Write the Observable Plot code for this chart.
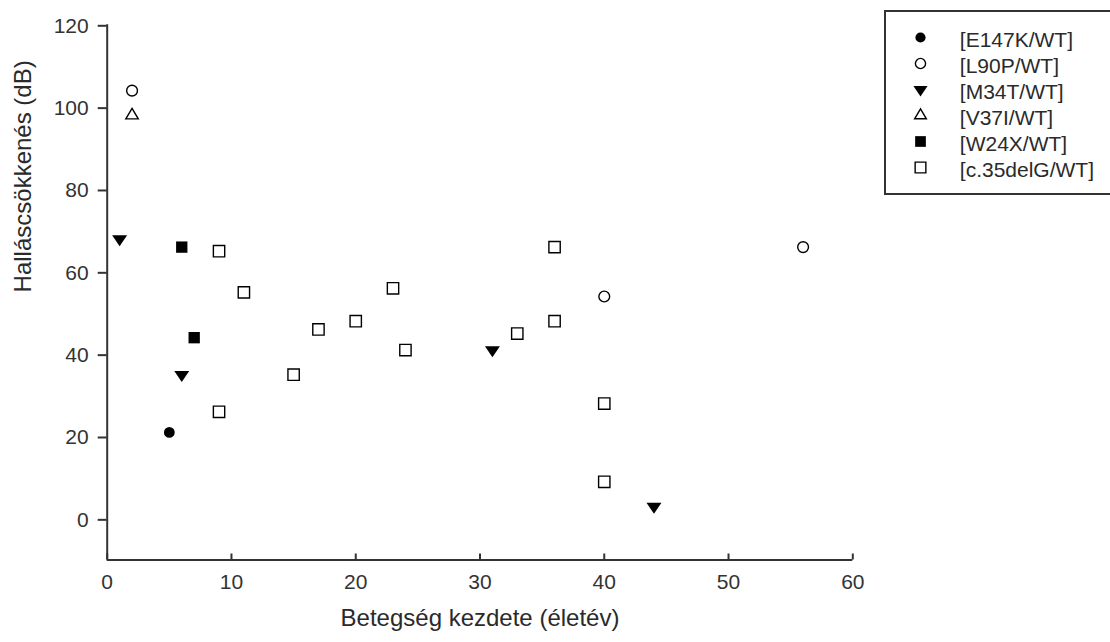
<!DOCTYPE html>
<html><head><meta charset="utf-8">
<script src="https://cdn.jsdelivr.net/npm/d3@7"></script>
<script src="https://cdn.jsdelivr.net/npm/@observablehq/plot@0.6"></script>
<style>
html,body{margin:0;padding:0;background:#fff;overflow:hidden;}
#wrap{position:relative;width:1110px;height:642px;overflow:hidden;}
#chart svg{display:block;}
#legend{position:absolute;left:884px;top:10px;width:400px;height:181px;border-top:2px solid #333;border-bottom:2.5px solid #333;border-left:2px solid #333;border-right:0;background:#fff;box-sizing:content-box;}
#legend svg{position:absolute;left:0;top:0;}
</style></head><body><div id="wrap"><div id="chart"></div><div id="legend"></div></div>
<script>
// ---- data ----
const series = ["E147K/WT", "L90P/WT", "M34T/WT", "V37I/WT", "W24X/WT", "c.35delG/WT"];
const filledSeries = ["E147K/WT", "M34T/WT", "W24X/WT"];
const group = [
  "E147K/WT",
  "L90P/WT", "L90P/WT", "L90P/WT",
  "M34T/WT", "M34T/WT", "M34T/WT", "M34T/WT",
  "V37I/WT",
  "W24X/WT", "W24X/WT",
  "c.35delG/WT", "c.35delG/WT", "c.35delG/WT", "c.35delG/WT", "c.35delG/WT", "c.35delG/WT", "c.35delG/WT",
  "c.35delG/WT", "c.35delG/WT", "c.35delG/WT", "c.35delG/WT", "c.35delG/WT", "c.35delG/WT"
];
const onset = [5, 2, 40, 56, 1, 6, 31, 44, 2, 6, 7, 9, 11, 9, 15, 17, 20, 23, 24, 33, 36, 36, 40, 40];
const loss  = [21, 104, 54, 66, 68, 35, 41, 3, 98, 66, 44, 65, 55, 26, 35, 46, 48, 56, 41, 45, 66, 48, 28, 9];
const xTicks = [0, 10, 20, 30, 40, 50, 60];
const yTicks = [0, 20, 40, 60, 80, 100, 120];
const xLabel = "Betegség kezdete (életév)";
const yLabel = "Halláscsökkenés (dB)";

// ---- symbols ----
const sym = {
  circle: {draw(c, s) { const r = Math.sqrt(s / Math.PI) * 0.98; c.moveTo(r, 0); c.arc(0, 0, r, 0, 2 * Math.PI); }},
  square: {draw(c, s) { const r = Math.sqrt(s / Math.PI) * 1.03; c.rect(-r, -r, 2 * r, 2 * r); }},
  triDown: {draw(c, s) { const r = Math.sqrt(s / Math.PI); const w = 1.36 * r, h = 2 * r;
    c.moveTo(-w, -h / 3); c.lineTo(w, -h / 3); c.lineTo(0, 2 * h / 3); c.closePath(); }},
  triUp: {draw(c, s) { const r = Math.sqrt(s / Math.PI); const w = 1.13 * r, h = 1.9 * r;
    c.moveTo(0, -2 * h / 3); c.lineTo(w, h / 3); c.lineTo(-w, h / 3); c.closePath(); }}
};
const symbolScale = {domain: series, range: [sym.circle, sym.circle, sym.triDown, sym.triUp, sym.square, sym.square]};
const isFilled = (g) => filledSeries.includes(g);

const data = onset.map((x, i) => ({x, y: loss[i], g: group[i]}));
const font = "'Liberation Sans', Arial, sans-serif";
const ink = "#2a2a2a";

const chart = Plot.plot({
  width: 1110, height: 642,
  marginLeft: 106.7, marginRight: 257.7, marginTop: 24.3, marginBottom: 82.5,
  style: {fontFamily: font, fontSize: "21px", color: ink, background: "#fff", overflow: "visible"},
  x: {domain: [0, 60]},
  y: {domain: [-10, 120]},
  symbol: symbolScale,
  marks: [
    Plot.ruleX([0], {stroke: "#333", strokeWidth: 2}),
    Plot.ruleY([-10], {stroke: "#333", strokeWidth: 2}),
    Plot.axisY({ticks: yTicks, tickSize: 9, tickPadding: 9.5, color: "#333", strokeWidth: 2, label: null, dy: 1}),
    Plot.axisX({ticks: xTicks, tickSize: -6, tickPadding: 19.8, color: "#333", strokeWidth: 2, label: null}),
    Plot.text([xLabel], {text: d => d, frameAnchor: "bottom", dy: 65.5, fontSize: 24, fill: ink}),
    Plot.text([yLabel], {text: d => d, frameAnchor: "left", rotate: -90, dx: -84, fontSize: 24, fill: ink}),
    Plot.dot(data.filter(d => isFilled(d.g)), {x: "x", y: "y", symbol: "g", r: 5.5, fill: "black", stroke: "none"}),
    Plot.dot(data.filter(d => !isFilled(d.g)), {x: "x", y: "y", symbol: "g", r: 5.5, fill: "white", stroke: "black", strokeWidth: 1.4})
  ]
});
document.getElementById("chart").appendChild(chart);

const legend = Plot.plot({
  width: 200, height: 181, margin: 0,
  style: {fontFamily: font, fontSize: "21px", color: ink, background: "transparent", overflow: "visible"},
  y: {type: "point", domain: series, range: [23, 157], padding: 0, axis: null},
  symbol: symbolScale,
  marks: [
    Plot.dot(series.filter(isFilled), {y: d => d, symbol: d => d, frameAnchor: "left", dx: 34, r: 5.2, fill: "black", stroke: "none"}),
    Plot.dot(series.filter(d => !isFilled(d)), {y: d => d, symbol: d => d, frameAnchor: "left", dx: 34, r: 5.2, fill: "white", stroke: "black", strokeWidth: 1.4}),
    Plot.text(series, {y: d => d, text: d => `[${d}]`, frameAnchor: "left", dx: 73.3, dy: 2.5, textAnchor: "start", fill: ink})
  ]
});
document.getElementById("legend").appendChild(legend);
</script></body></html>
